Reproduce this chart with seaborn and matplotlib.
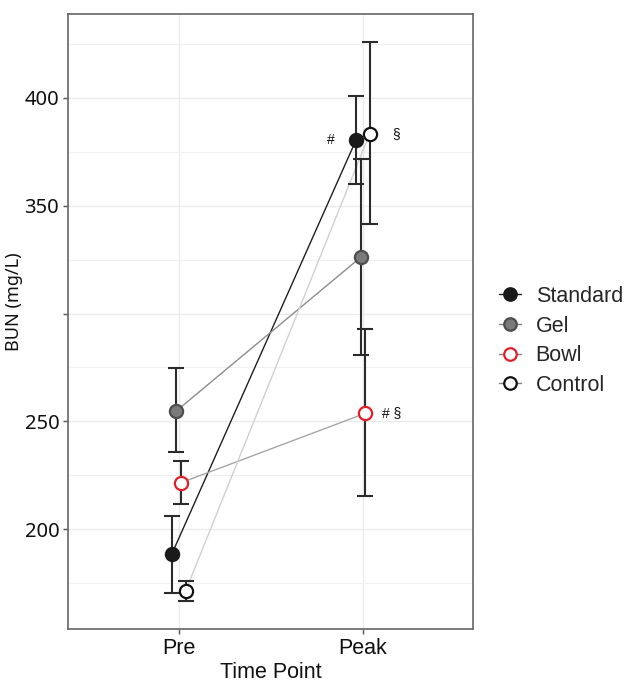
import numpy as np
import pandas as pd
import seaborn as sns
import matplotlib.pyplot as plt
from matplotlib.lines import Line2D

# values
groups = ["Standard", "Gel", "Bowl", "Control"]
times = ["Pre", "Peak"]
mean_standard = [188.6, 380.3]
mean_gel = [254.9, 326.0]
mean_bowl = [221.6, 253.7]
mean_control = [171.5, 383.4]
low_standard = [170.4, 359.8]
low_gel = [235.7, 281.0]
low_bowl = [211.9, 215.6]
low_control = [167.0, 341.4]
high_standard = [206.3, 400.8]
high_gel = [274.6, 371.8]
high_bowl = [231.6, 292.8]
high_control = [176.2, 425.8]
y_ticks = [200, 250, 300, 350, 400]
y_ticklabels = ["200", "250", "", "350", "400"]

means = [mean_standard, mean_gel, mean_bowl, mean_control]
lows = [low_standard, low_gel, low_bowl, low_control]
highs = [high_standard, high_gel, high_bowl, high_control]

rows = []
for g, m, lo, hi in zip(groups, means, lows, highs):
    for i, t in enumerate(times):
        rows.append({"group": g, "time": t, "idx": i, "mean": m[i], "low": lo[i], "high": hi[i]})
df = pd.DataFrame(rows)

# styling per group
dodge = dict(zip(groups, [-0.0375, -0.0125, 0.0125, 0.0375]))
line_col = {"Standard": "#1f1f1f", "Gel": "#8c8c8c", "Bowl": "#a6a6a6", "Control": "#d0d0d0"}
face_col = {"Standard": "#1a1a1a", "Gel": "#7a7a7a", "Bowl": "white", "Control": "white"}
edge_col = {"Standard": "#1a1a1a", "Gel": "#4d4d4d", "Bowl": "#e41e26", "Control": "#111111"}
df["x"] = df["idx"] + df["group"].map(dodge)

sns.set_theme(style="white")
plt.rcParams["font.family"] = ["Liberation Sans", "DejaVu Sans"]
side_font = ["Noto Sans", "DejaVu Sans"]

fig = plt.figure(figsize=(6.28, 6.86), dpi=100)
ax = fig.add_axes([0.1088, 0.0831, 0.6449, 0.8965])

ax.set_xlim(-0.6, 1.6)
ax.set_ylim(153.8, 438.8)
ax.set_yticks(y_ticks)
ax.set_yticks([175, 225, 275, 325, 375, 425], minor=True)
ax.grid(True, which="major", color="#ebebeb", linewidth=1.0, zorder=0)
ax.grid(True, which="minor", axis="y", color="#f0f0f0", linewidth=0.8, zorder=0)
ax.set_axisbelow(True)

sns.lineplot(data=df, x="x", y="mean", hue="group", hue_order=groups, units="group",
             estimator=None, palette=line_col, linewidth=1.0, legend=False, ax=ax, zorder=2)

for g in groups:
    sub = df[df["group"] == g]
    ax.errorbar(sub["x"], sub["mean"],
                yerr=[sub["mean"] - sub["low"], sub["high"] - sub["mean"]],
                fmt="none", ecolor="#2b2b2b", elinewidth=1.5, capsize=5.8, capthick=1.5, zorder=3)
    ax.plot(sub["x"], sub["mean"], linestyle="none", marker="o", markersize=9.5,
            markerfacecolor=face_col[g], markeredgecolor=edge_col[g], markeredgewidth=1.6, zorder=4)

# significance marks
def mark(g, i, txt, dx):
    sub = df[(df["group"] == g) & (df["idx"] == i)].iloc[0]
    ax.annotate(txt, (sub["x"], sub["mean"]), xytext=(dx, 0), textcoords="offset points",
                ha="center", va="center", fontsize=10, color="#111111")

mark("Standard", 1, "#", -18)
mark("Control", 1, "§", 19)
mark("Bowl", 1, "# §", 19)

ax.set_xticks([0, 1])
ax.set_xticklabels(times, fontsize=15.5)
ax.set_yticklabels(y_ticklabels, fontsize=14.5, family=side_font)
ax.tick_params(axis="both", which="major", length=3.5, width=1, color="#555555",
               bottom=True, left=True, pad=3, labelcolor="#111111")
ax.tick_params(axis="y", which="minor", left=False)
ax.set_xlabel("Time Point", fontsize=15.5, color="#111111", labelpad=2)
ax.set_ylabel("BUN (mg/L)", fontsize=13, color="#111111", family=side_font)
ax.yaxis.set_label_coords(-0.112, 0.532)

for s in ax.spines.values():
    s.set_color("#666666")
    s.set_linewidth(1.2)

handles = [Line2D([0], [0], color=line_col[g] if g == "Standard" else "#7f7f7f", linewidth=1.0,
                  marker="o", markersize=9, markerfacecolor=face_col[g],
                  markeredgecolor=edge_col[g], markeredgewidth=1.6) for g in groups]
fig.legend(handles, groups, loc="center left", bbox_to_anchor=(0.781, 0.503),
           frameon=False, fontsize=15.5, handlelength=1.0, handletextpad=0.7,
           labelspacing=0.4, borderaxespad=0)

fig.savefig("out.png", dpi=100)
